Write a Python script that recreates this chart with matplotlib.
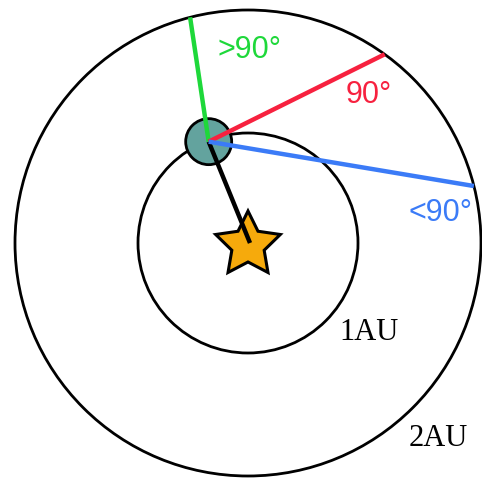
import numpy as np
import matplotlib.pyplot as plt
from matplotlib.patches import Circle
from matplotlib.path import Path
from matplotlib.patches import PathPatch

# orbits (radius in plot units, star at origin)
orbit_radii = [110, 233]
orbit_labels = ['1AU', '2AU']
orbit_label_xy = [(121, -89), (190, -196)]

# earth on the 1AU orbit
earth_angle = 111.5
earth_r = 23

# sight lines from earth (direction in degrees) and their labels
sight_angles = [98.5, 26.4, -9.5]
sight_colors = ['#1ed83a', '#f7213f', '#3b7bf7']
sight_labels = ['>90°', '90°', '<90°']
sight_label_xy = [(2, 193), (121, 148), (192, 30)]

fig = plt.figure(figsize=(4.82, 4.79), dpi=100)
ax = fig.add_axes([0, 0, 1, 1])
ax.set_xlim(-248, 234)
ax.set_ylim(-236, 243)
ax.set_aspect('equal')
ax.axis('off')

for r in orbit_radii:
    ax.add_patch(Circle((0, 0), r, fill=False, lw=2, ec='black', zorder=1))

ex = orbit_radii[0] * np.cos(np.radians(earth_angle))
ey = orbit_radii[0] * np.sin(np.radians(earth_angle))
ex, ey = ex + 1, ey - 1

# star
n = 5
ro, ri = 34, 17
ang = np.radians(90 + np.arange(2 * n) * 180 / n)
rad = np.where(np.arange(2 * n) % 2 == 0, ro, ri)
sx, sy = 0, -2
verts = np.column_stack([sx + rad * np.cos(ang), sy + rad * np.sin(ang)])
verts = np.vstack([verts, verts[:1]])
codes = [Path.MOVETO] + [Path.LINETO] * (2 * n - 1) + [Path.CLOSEPOLY]
ax.add_patch(PathPatch(Path(verts, codes), fc='#f6aa0c', ec='black', lw=2.2, zorder=2, joinstyle='miter'))

ax.add_patch(Circle((ex, ey), earth_r, fc='#63a39e', ec='black', lw=2, zorder=3))

# earth-star line
ax.plot([ex, 2], [ey, 0], color='black', lw=3.2, zorder=4, solid_capstyle='butt')

# sight lines out to the 2AU orbit
R = orbit_radii[1]
for a, c in zip(sight_angles, sight_colors):
    dx, dy = np.cos(np.radians(a)), np.sin(np.radians(a))
    b = ex * dx + ey * dy
    t = -b + np.sqrt(b * b - (ex * ex + ey * ey - R * R))
    ax.plot([ex, ex + t * dx], [ey, ey + t * dy], color=c, lw=3.2, zorder=5, solid_capstyle='butt')

for lab, (x, y), c in zip(sight_labels, sight_label_xy, sight_colors):
    ax.text(x, y, lab, color=c, fontsize=22, family='Liberation Sans', ha='center', va='center')

for lab, (x, y) in zip(orbit_labels, orbit_label_xy):
    ax.text(x, y, lab, color='black', fontsize=22, family='Liberation Serif', ha='center', va='center')

fig.savefig('out.png', dpi=100, facecolor='white')
